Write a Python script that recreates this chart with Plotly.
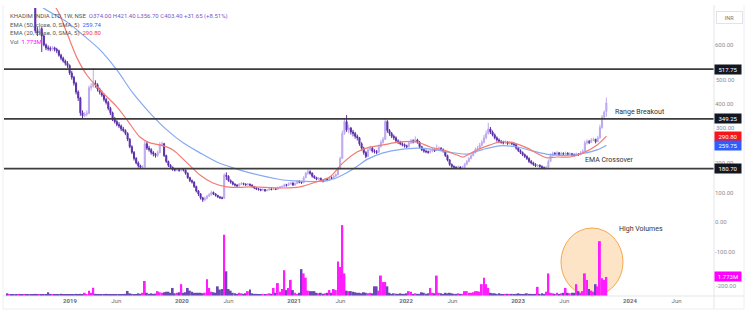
import plotly.graph_objects as go
import pandas as pd

# ---------------- data (weekly candles, KHADIM INDIA LTD, NSE) ----------------
last_week = "2023-10-16"
first_open = 870.0
last_open = 374.0

closes = [
    865, 880, 860, 850, 835, 845, 830, 815, 820, 805, 795, 790, 780,
    648, 640, 655, 630, 600, 590, 588, 585, 590, 585,
    580, 565, 555, 545, 538, 530, 505, 490, 470, 440,
    420, 370, 360, 365, 368, 455, 460, 470, 465, 450,
    440, 430, 415, 405, 385, 370, 350, 340, 330, 325,
    315, 310, 300, 280, 255, 236, 215, 200, 190, 185,
    186, 265, 250, 245, 235, 230, 225, 235, 262, 265,
    225, 205, 192, 185, 178, 176, 177, 175, 178, 176,
    165, 150, 140, 135, 120, 105, 95, 82, 75, 80,
    88, 92, 100, 95, 90, 85, 82, 80, 158, 155,
    140, 135, 128, 125, 122, 128, 130, 128, 126, 128,
    125, 120, 115, 112, 110, 108, 110, 106, 108, 112,
    110, 112, 111, 116, 118, 120, 126, 124, 130, 132,
    125, 130, 138, 135, 133, 150, 165, 170, 165, 155,
    150, 145, 148, 140, 138, 145, 142, 150, 148, 155,
    160, 180, 215, 300, 340, 312, 318, 305, 300, 290,
    285, 265, 250, 235, 222, 245, 250, 240, 238, 236,
    255, 270, 280, 340, 310, 300, 290, 285, 275, 270,
    265, 262, 258, 255, 268, 275, 272, 278, 270, 255,
    245, 240, 238, 236, 240, 245, 242, 248, 250, 245,
    240, 225, 210, 195, 188, 185, 184, 186, 183, 185,
    195, 205, 215, 225, 235, 245, 250, 260, 270, 285,
    300, 315, 305, 295, 285, 278, 272, 270, 268, 270,
    266, 268, 265, 262, 250, 242, 235, 228, 222, 215,
    205, 200, 195, 190, 192, 188, 184, 182, 185, 205,
    225, 232, 230, 234, 228, 232, 230, 233, 229, 231,
    228, 226, 230, 228, 234, 240, 268, 272, 270, 278,
    280, 272, 285, 320, 355, 371.75, 403.4,
]

highs = [
    885, 890, 885, 865, 855, 855, 850, 835, 830, 825, 810, 805, 795,
    790, 660, 662, 660, 635, 605, 598, 595, 596, 594,
    590, 584, 570, 560, 550, 545, 534, 512, 495, 475,
    446, 424, 378, 372, 378, 462, 470, 522, 480, 470,
    455, 446, 436, 420, 410, 390, 374, 356, 345, 338,
    330, 322, 314, 304, 284, 260, 240, 220, 205, 194,
    192, 275, 272, 258, 250, 240, 234, 242, 270, 272,
    268, 228, 208, 196, 188, 182, 182, 181, 183, 181,
    178, 168, 153, 144, 138, 123, 108, 98, 85, 86,
    92, 98, 106, 103, 97, 92, 87, 86, 165, 168,
    158, 144, 138, 131, 128, 132, 135, 133, 131, 132,
    130, 127, 122, 118, 115, 113, 114, 112, 112, 116,
    115, 116, 115, 120, 122, 124, 130, 129, 134, 136,
    134, 134, 142, 141, 138, 155, 170, 183, 175, 168,
    158, 153, 152, 150, 144, 149, 148, 154, 154, 159,
    165, 185, 222, 310, 350, 362, 330, 322, 312, 305,
    296, 288, 270, 255, 240, 250, 258, 254, 246, 244,
    262, 278, 288, 352, 345, 315, 305, 296, 290, 280,
    275, 270, 266, 262, 274, 282, 280, 290, 282, 274,
    258, 250, 245, 242, 246, 250, 249, 262, 256, 253,
    249, 243, 228, 213, 198, 192, 189, 191, 189, 190,
    200, 210, 220, 230, 240, 252, 258, 268, 278, 295,
    310, 336, 322, 310, 300, 290, 283, 278, 275, 276,
    274, 274, 272, 270, 265, 254, 246, 239, 232, 226,
    219, 210, 204, 199, 196, 195, 192, 188, 190, 212,
    232, 238, 237, 240, 237, 238, 236, 238, 236, 236,
    234, 232, 235, 233, 240, 246, 276, 280, 278, 284,
    286, 282, 292, 330, 362, 378, 421.4,
]

lows = [
    855, 860, 850, 838, 825, 828, 812, 805, 800, 790, 780, 730, 770,
    640, 630, 632, 576, 595, 582, 580, 578, 580, 578,
    572, 560, 548, 540, 530, 522, 498, 482, 462, 432,
    410, 360, 352, 355, 358, 365, 445, 455, 455, 442,
    432, 424, 408, 398, 378, 362, 342, 334, 324, 318,
    308, 304, 294, 274, 250, 230, 208, 195, 184, 180,
    180, 184, 244, 238, 228, 222, 218, 220, 232, 255,
    220, 200, 186, 180, 173, 171, 172, 170, 171, 171,
    160, 146, 135, 130, 115, 100, 88, 76, 68, 70,
    76, 84, 89, 91, 86, 81, 78, 77, 79, 142,
    136, 130, 124, 120, 118, 120, 125, 124, 122, 123,
    121, 116, 111, 108, 106, 104, 105, 102, 104, 106,
    107, 108, 108, 109, 113, 115, 118, 120, 122, 126,
    122, 123, 128, 131, 129, 131, 148, 160, 160, 150,
    146, 141, 142, 136, 134, 136, 138, 140, 144, 146,
    152, 158, 178, 213, 295, 305, 300, 296, 290, 282,
    276, 258, 242, 228, 216, 220, 240, 235, 232, 230,
    234, 252, 265, 278, 302, 292, 284, 278, 270, 264,
    260, 256, 252, 250, 252, 264, 266, 268, 265, 250,
    240, 235, 233, 231, 232, 236, 237, 240, 244, 240,
    235, 220, 205, 190, 183, 180, 179, 180, 178, 180,
    183, 192, 202, 212, 222, 232, 242, 246, 256, 266,
    280, 296, 298, 290, 280, 272, 267, 265, 263, 264,
    261, 262, 260, 257, 245, 237, 230, 223, 217, 210,
    200, 195, 190, 186, 186, 184, 180, 178, 179, 184,
    203, 222, 226, 227, 224, 225, 226, 226, 225, 226,
    224, 222, 223, 224, 226, 230, 238, 262, 264, 268,
    274, 266, 270, 282, 316, 348, 356.7,
]

volumes_m = [
    0.25, 0.15, 0.12, 0.15, 0.10, 0.12, 0.14, 0.10, 0.12, 0.15, 0.10, 0.12, 0.14,
    0.20, 0.15, 0.12, 0.18, 0.14, 0.15, 0.35, 0.20, 0.12, 0.10,
    0.12, 0.15, 0.20, 0.12, 0.10, 0.14, 0.12, 0.15, 0.18, 0.20,
    0.15, 0.20, 0.12, 0.30, 0.15, 0.50, 0.30, 0.77, 0.20, 0.15,
    0.12, 0.15, 0.12, 0.20, 0.15, 0.12, 0.14, 0.12, 0.15, 0.12,
    0.14, 0.12, 0.20, 0.47, 0.25, 0.20, 0.18, 0.15, 0.25, 0.20,
    0.30, 1.40, 0.30, 0.20, 0.25, 0.20, 0.22, 0.45, 0.35, 0.30,
    0.35, 0.40, 0.40, 0.30, 0.75, 0.25, 0.30, 0.35, 1.10, 0.30,
    0.35, 0.75, 0.50, 0.40, 0.30, 0.30, 0.30, 0.30, 0.25, 0.30,
    1.55, 0.75, 0.40, 0.35, 0.30, 0.90, 0.60, 0.65, 5.70, 2.30,
    0.65, 0.50, 0.30, 0.25, 0.20, 0.30, 0.25, 0.20, 0.25, 0.45,
    0.60, 0.25, 0.20, 0.20, 0.18, 0.15, 0.20, 0.15, 0.20, 0.25,
    0.20, 0.75, 0.30, 1.20, 0.40, 0.65, 2.40, 0.55, 0.75, 1.50,
    0.55, 0.30, 0.20, 0.30, 2.50, 2.10, 1.70, 0.50, 0.45, 0.45,
    0.45, 0.30, 0.25, 0.30, 0.20, 0.25, 0.30, 0.55, 0.30, 0.65,
    0.55, 3.20, 2.70, 6.60, 2.10, 0.50, 0.45, 0.45, 0.40, 0.35,
    0.30, 0.30, 0.25, 0.35, 0.30, 0.25, 0.30, 0.25, 0.90, 0.90,
    0.50, 1.90, 1.30, 1.30, 0.90, 0.30, 0.20, 0.25, 0.20, 0.20,
    0.25, 0.20, 0.20, 0.25, 0.45, 0.40, 0.20, 0.25, 0.20, 0.20,
    0.35, 0.30, 0.20, 0.25, 0.75, 0.30, 0.25, 1.90, 0.30, 0.25,
    0.20, 0.30, 0.25, 0.30, 0.25, 0.20, 0.20, 0.25, 0.20, 0.20,
    0.45, 0.45, 0.30, 0.30, 0.35, 0.45, 0.45, 0.40, 1.10, 1.70,
    1.10, 0.75, 0.30, 0.25, 0.25, 0.20, 0.25, 0.20, 0.15, 0.20,
    0.20, 0.15, 0.20, 0.15, 0.20, 0.25, 0.20, 0.15, 0.20, 0.25,
    0.20, 0.20, 0.15, 0.20, 0.85, 0.20, 0.25, 0.20, 0.40, 2.10,
    0.30, 0.25, 0.20, 0.30, 0.20, 0.25, 0.30, 0.75, 0.30, 0.25,
    0.30, 0.30, 1.10, 0.45, 0.30, 0.45, 2.10, 1.50, 0.65, 0.50,
    0.40, 1.10, 0.90, 5.10, 1.65, 1.50, 1.773,
]

ema50_dates = [
    "2018-06-03", "2018-10-05", "2018-12-22", "2019-02-12", "2019-04-09", "2019-06-03",
    "2019-07-25", "2019-09-19", "2019-11-13", "2020-01-05", "2020-02-29", "2020-04-24",
    "2020-06-16", "2020-08-10", "2020-11-26", "2021-01-20", "2021-03-17", "2021-04-28",
    "2021-06-09", "2021-07-25", "2021-08-27", "2021-10-18", "2021-12-12", "2022-02-06",
    "2022-03-30", "2022-05-24", "2022-07-19", "2022-09-09", "2022-11-03", "2022-12-29",
    "2023-02-19", "2023-04-15", "2023-06-20", "2023-08-01", "2023-09-16", "2023-10-16",
]
ema50_values = [
    830, 726, 678, 634, 583, 515,
    437, 369, 312, 268, 234, 203,
    183, 166, 142, 138, 137, 142,
    160, 188, 212, 234, 245, 250,
    246, 236, 230, 246, 258, 254,
    240, 228, 226, 232, 244, 259.74,
]

ema20_dates = [
    "2018-06-03", "2018-11-13", "2018-12-22", "2019-01-24", "2019-02-25", "2019-04-09",
    "2019-06-03", "2019-07-06", "2019-08-17", "2019-09-19", "2019-10-22", "2019-12-03",
    "2020-01-18", "2020-02-29", "2020-04-11", "2020-05-27", "2020-07-08", "2020-08-10",
    "2020-11-26", "2021-01-20", "2021-03-17", "2021-04-28", "2021-06-09", "2021-07-25",
    "2021-08-27", "2021-10-18", "2021-12-12", "2022-02-06", "2022-03-20", "2022-05-01",
    "2022-06-16", "2022-07-06", "2022-08-20", "2022-10-02", "2022-11-03", "2022-12-16",
    "2023-01-30", "2023-03-14", "2023-04-06", "2023-05-08", "2023-06-20", "2023-08-01",
    "2023-09-16", "2023-10-16",
]
ema20_values = [
    845, 730, 640, 556, 498, 447,
    390, 346, 288, 268, 261, 244,
    200, 159, 132, 119, 117, 119,
    115, 119, 136, 153, 200, 237,
    251, 261, 271, 271, 254, 244,
    227, 220, 244, 261, 271, 268,
    251, 227, 217, 220, 220, 234,
    261, 290.80,
]

levels = [517.75, 349.25, 180.70]
price_ticks = [600, 400, 200, 100, 0, -100]
# tick labels partly hidden behind price tags in the reference: drawn nudged clear of the tags
nudged_ticks = [(500, 79.5), (300, 127.5), (-200, 285.5)]
time_tick_dates = ["2019-01-01", "2019-06-01", "2020-01-01", "2020-06-01", "2021-01-01",
                   "2021-06-01", "2022-01-01", "2022-06-01", "2023-01-01", "2023-06-01",
                   "2024-01-01", "2024-06-01"]
time_tick_labels = ["2019", "Jun", "2020", "Jun", "2021", "Jun", "2022", "Jun",
                    "2023", "Jun", "2024", "Jun"]

# ---------------- build ----------------
dates = pd.date_range(end=last_week, periods=len(closes), freq="W-MON")
opens = [first_open] + closes[:-1]
opens[-1] = last_open

W, H = 756, 320
L_M, R_M, T_M, B_M = 4, 42, 8, 24
PW, PH = W - L_M - R_M, H - T_M - B_M


def px(x):
    return (x - L_M) / PW


def py(y):
    return (H - B_M - y) / PH


FONT = "Roboto, Arial, sans-serif"
UP_C, DN_C = "#bca9ef", "#5b2fa9"
VOL_UP, VOL_DN = "#ff1cff", "#6b47b3"
TICK_C = "#8a8d96"

fig = go.Figure()

vol_colors = [VOL_UP if c >= o else VOL_DN for o, c in zip(opens, closes)]
fig.add_trace(go.Bar(x=dates, y=volumes_m, marker=dict(color=vol_colors, line=dict(width=0)),
                     yaxis="y2", showlegend=False, hoverinfo="skip"))

fig.add_trace(go.Candlestick(
    x=dates, open=opens, high=highs, low=lows, close=closes,
    increasing=dict(line=dict(color=UP_C, width=1), fillcolor=UP_C),
    decreasing=dict(line=dict(color=DN_C, width=1), fillcolor=DN_C),
    whiskerwidth=0, showlegend=False, hoverinfo="skip"))

fig.add_trace(go.Scatter(x=pd.to_datetime(ema50_dates), y=ema50_values, mode="lines",
                         line=dict(color="#86a9f3", width=1.2, shape="spline", smoothing=0.8),
                         showlegend=False, hoverinfo="skip"))
fig.add_trace(go.Scatter(x=pd.to_datetime(ema20_dates), y=ema20_values, mode="lines",
                         line=dict(color="#f47a72", width=1.2, shape="spline", smoothing=0.8),
                         showlegend=False, hoverinfo="skip"))

shapes = []
for lv in levels:
    shapes.append(dict(type="line", xref="paper", yref="y", x0=0, x1=1, y0=lv, y1=lv,
                       line=dict(color="#3c3c3c", width=1.8), layer="above"))
# panel separators / borders
shapes.append(dict(type="line", xref="paper", yref="paper", x0=1, x1=1, y0=py(309), y1=py(5),
                   line=dict(color="#e3e5ea", width=1)))
shapes.append(dict(type="line", xref="paper", yref="paper", x0=px(3), x1=px(744), y0=0, y1=0,
                   line=dict(color="#e3e5ea", width=1)))
shapes.append(dict(type="line", xref="paper", yref="paper", x0=px(3), x1=px(744), y0=py(309), y1=py(309),
                   line=dict(color="#eceef2", width=1)))
shapes.append(dict(type="line", xref="paper", yref="paper", x0=px(744), x1=px(744), y0=py(309), y1=py(5),
                   line=dict(color="#eceef2", width=1)))
shapes.append(dict(type="line", xref="paper", yref="paper", x0=px(3), x1=px(3), y0=py(309), y1=py(5),
                   line=dict(color="#eceef2", width=1)))
# high-volume circle
shapes.append(dict(type="circle", xref="paper", yref="paper", x0=px(561), x1=px(623),
                   y0=py(296), y1=py(228), fillcolor="rgba(252,196,130,0.45)",
                   line=dict(color="#f5a94c", width=1), layer="below"))

ann = []
hx = px(8)
purple = "#7d55c7"
ann.append(dict(x=hx, y=py(16), xref="paper", yref="paper", xanchor="left", yanchor="middle",
                showarrow=False, font=dict(size=6, color="#555", family=FONT),
                text=f"KHADIM INDIA LTD, 1W, NSE  <span style='color:{purple}'>O374.00 H421.40 L356.70 C403.40 +31.65 (+8.51%)</span>"))
ann.append(dict(x=hx, y=py(25), xref="paper", yref="paper", xanchor="left", yanchor="middle",
                showarrow=False, font=dict(size=6, color="#555", family=FONT),
                text="EMA (50, close, 0, SMA, 5)  <span style='color:#2962ff'>259.74</span>"))
ann.append(dict(x=hx, y=py(33), xref="paper", yref="paper", xanchor="left", yanchor="middle",
                showarrow=False, font=dict(size=6, color="#555", family=FONT),
                text="EMA (20, close, 0, SMA, 5)  <span style='color:#f23645'>290.80</span>"))
ann.append(dict(x=hx, y=py(41), xref="paper", yref="paper", xanchor="left", yanchor="middle",
                showarrow=False, font=dict(size=6, color="#555", family=FONT),
                text="Vol  <span style='color:#ff00ff'>1.773M</span>"))

ann.append(dict(x=px(613), y=py(112), xref="paper", yref="paper", xanchor="left", yanchor="middle",
                showarrow=False, font=dict(size=7, color="#333", family=FONT), text="Range Breakout"))
ann.append(dict(x=px(583), y=py(160), xref="paper", yref="paper", xanchor="left", yanchor="middle",
                showarrow=False, font=dict(size=7, color="#333", family=FONT), text="EMA Crossover"))
ann.append(dict(x=px(617), y=py(229), xref="paper", yref="paper", xanchor="left", yanchor="middle",
                showarrow=False, font=dict(size=7, color="#333", family=FONT), text="High Volumes"))

for val, ypix in nudged_ticks:
    ann.append(dict(x=1, y=py(ypix), xref="paper", yref="paper", xanchor="left", yanchor="middle",
                    xshift=0, showarrow=False, text=f"{val:.2f}",
                    font=dict(size=6, color=TICK_C, family=FONT)))

# right-axis price tags
tags = [(levels[0], "517.75", "#131722", "y"), (levels[1], "349.25", "#131722", "y"),
        (levels[2], "180.70", "#131722", "y"), (290.80, "290.80", "#f7151c", "y"),
        (259.75, "259.75", "#2f5dff", "y"), (1.773, "1.773M", "#ff00ff", "y2")]
for val, txt, col, yr in tags:
    ann.append(dict(x=1, y=val, xref="paper", yref=yr, xanchor="left", yanchor="middle",
                    showarrow=False, text=txt, bgcolor=col, width=25, height=8, borderpad=0.5,
                    font=dict(size=6, color="white", family=FONT)))
ann.append(dict(x=1, y=py(17), xref="paper", yref="paper", xanchor="left", yanchor="middle",
                xshift=2, showarrow=False, text="INR", bgcolor="white", bordercolor="#e0e3eb",
                borderwidth=1, width=23, height=9, font=dict(size=5.5, color="#777", family=FONT)))

fig.update_layout(
    width=W, height=H, margin=dict(l=L_M, r=R_M, t=T_M, b=B_M),
    paper_bgcolor="white", plot_bgcolor="white",
    font=dict(family=FONT),
    bargap=0.12,
    xaxis=dict(type="date", range=["2018-05-31", "2024-10-01"], showgrid=False, zeroline=False,
               showline=False, ticks="", rangeslider=dict(visible=False),
               tickvals=pd.to_datetime(time_tick_dates),
               ticktext=[f"<b>{t}</b>" if t != "Jun" else t for t in time_tick_labels],
               tickfont=dict(size=6, color="#6a6d78", family=FONT)),
    yaxis=dict(side="right", range=[-251, 725], showgrid=False, zeroline=False, showline=False,
               ticks="", tickvals=price_ticks, ticktext=[f"{v:.2f}" for v in price_ticks],
               tickfont=dict(size=6, color=TICK_C, family=FONT)),
    yaxis2=dict(overlaying="y", range=[0, 26.8], visible=False),
    shapes=shapes, annotations=ann,
)

fig.write_html("out.html")
